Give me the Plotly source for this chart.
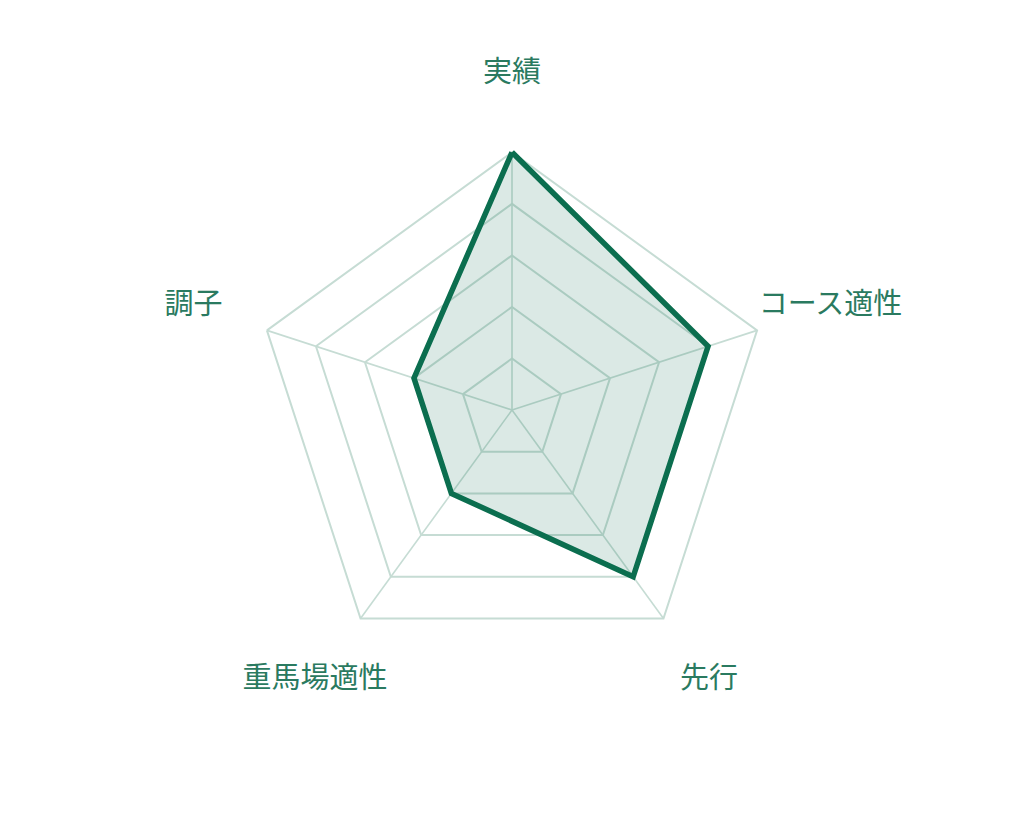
import plotly.graph_objects as go

# radar categories (clockwise from top) and scores
categories = ["実績", "コース適性", "先行", "重馬場適性", "調子"]
scores = [5, 4, 4, 2, 2]
max_score = 5
grid_levels = [1, 2, 3, 4, 5]

line_color = "#0b6e4f"
grid_color = "#c6dcd4"
label_color = "#2a7a60"

label_r = max_score * 1.3   # labels sit outside the outer ring

# close the polygon
theta_closed = categories + categories[:1]
r_closed = scores + scores[:1]

# spokes from centre to each outer vertex
spoke_theta, spoke_r = [], []
for c in categories:
    spoke_theta += [c, c, None]
    spoke_r += [0, max_score, None]

fig = go.Figure()

fig.add_trace(go.Scatterpolar(
    r=spoke_r,
    theta=spoke_theta,
    mode="lines",
    line=dict(color=grid_color, width=1.6),
    hoverinfo="skip",
))

fig.add_trace(go.Scatterpolar(
    r=r_closed,
    theta=theta_closed,
    mode="lines",
    fill="toself",
    fillcolor="rgba(11,110,79,0.15)",
    line=dict(color=line_color, width=5.5),
    hoverinfo="skip",
))

fig.add_trace(go.Scatterpolar(
    r=[label_r] * len(categories),
    theta=categories,
    mode="text",
    text=categories,
    textposition="middle center",
    textfont=dict(family="Noto Sans CJK JP", size=29, color=label_color),
    cliponaxis=False,
    hoverinfo="skip",
))

fig.update_layout(
    width=1024,
    height=820,
    paper_bgcolor="white",
    plot_bgcolor="white",
    showlegend=False,
    margin=dict(l=0, r=16, t=67, b=83),
    polar=dict(
        bgcolor="white",
        gridshape="linear",
        radialaxis=dict(
            range=[0, label_r],
            tickvals=grid_levels,
            showticklabels=False,
            ticks="",
            showline=False,
            gridcolor=grid_color,
            gridwidth=1.6,
        ),
        angularaxis=dict(
            direction="clockwise",
            rotation=90,
            showticklabels=False,
            ticks="",
            showgrid=False,
            showline=False,
        ),
    ),
)

fig.write_html("out.html")
